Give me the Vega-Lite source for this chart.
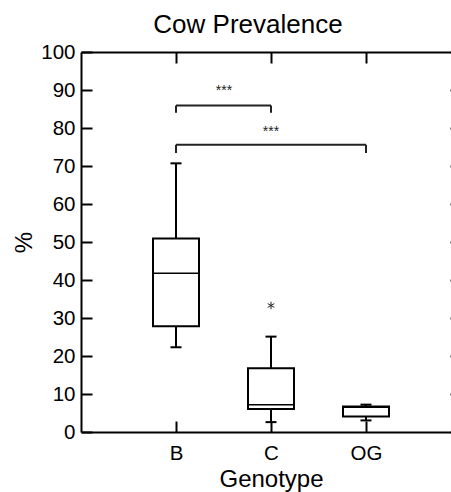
{
  "$schema": "https://vega.github.io/schema/vega-lite/v6.json",
  "width": 380,
  "height": 380,
  "padding": {"left": 12, "top": 12, "right": 0, "bottom": 0},
  "background": "white",
  "title": {"text": "Cow Prevalence", "fontSize": 26, "font": "Liberation Sans", "fontWeight": "normal", "color": "black", "dx": -23, "offset": 4},
  "config": {
    "view": {"stroke": null},
    "font": "Liberation Sans",
    "axis": {
      "domainColor": "black", "domainWidth": 2, "tickColor": "black", "tickWidth": 2, "tickSize": -11,
      "grid": false, "labelFont": "Liberation Sans", "labelColor": "black", "labelFontSize": 20.5,
      "titleFont": "Liberation Sans", "titleColor": "black", "titleFontWeight": "normal", "titleFontSize": 24
    }
  },
  "datasets": {
    "boxes": [
      {"genotype": "B", "lower": 22.3, "q1": 27.8, "median": 41.8, "q3": 50.9, "upper": 70.7},
      {"genotype": "C", "lower": 2.6, "q1": 6.05, "median": 7.2, "q3": 16.8, "upper": 25.1},
      {"genotype": "OG", "lower": 3.05, "q1": 4.1, "median": 6.5, "q3": 6.7, "upper": 7.2}
    ],
    "outliers": [
      {"genotype": "C", "value": 33.3}
    ],
    "brackets": [
      {"pair": "B-C", "from": "B", "to": "C", "level": 85.9, "leg": 84.0},
      {"pair": "B-OG", "from": "B", "to": "OG", "level": 75.6, "leg": 73.4}
    ],
    "stars": [
      {"pair": "B-C", "at": "B", "y": 88.8, "label": "***"},
      {"pair": "B-OG", "at": "C", "y": 77.8, "label": "***"}
    ]
  },
  "layer": [
    {
      "data": {"name": "boxes"},
      "mark": {"type": "rule", "strokeWidth": 2, "color": "black"},
      "encoding": {
        "x": {"field": "genotype", "type": "nominal", "scale": {"type": "point", "domain": ["B", "C", "OG"], "padding": 1},
              "axis": {"orient": "bottom", "title": "Genotype", "labelAngle": 0, "labelPadding": 22, "titlePadding": 4}},
        "y": {"field": "q3", "type": "quantitative", "scale": {"domain": [0, 100], "nice": false},
              "axis": {"orient": "left", "title": "%", "values": [0, 10, 20, 30, 40, 50, 60, 70, 80, 90, 100], "labelPadding": 17, "titlePadding": 4}},
        "y2": {"field": "upper"}
      }
    },
    {
      "data": {"name": "boxes"},
      "mark": {"type": "rule", "strokeWidth": 2, "color": "black"},
      "encoding": {
        "x": {"field": "genotype", "type": "nominal", "axis": {"orient": "top", "title": null, "labels": false}},
        "y": {"field": "lower", "type": "quantitative",
              "axis": {"orient": "right", "title": null, "labels": false, "values": [0, 10, 20, 30, 40, 50, 60, 70, 80, 90, 100]}},
        "y2": {"field": "q1"}
      }
    },
    {
      "data": {"name": "boxes"},
      "mark": {"type": "bar", "size": 46, "fill": "white", "stroke": "black", "strokeWidth": 2},
      "encoding": {
        "x": {"field": "genotype", "type": "nominal", "axis": null},
        "y": {"field": "q1", "type": "quantitative", "axis": null},
        "y2": {"field": "q3"}
      }
    },
    {
      "data": {"name": "boxes"},
      "mark": {"type": "tick", "size": 47, "thickness": 1.5, "color": "black", "opacity": 1},
      "encoding": {
        "x": {"field": "genotype", "type": "nominal", "axis": null},
        "y": {"field": "median", "type": "quantitative", "axis": null}
      }
    },
    {
      "data": {"name": "boxes"},
      "mark": {"type": "tick", "size": 11, "thickness": 2, "color": "black", "opacity": 1},
      "encoding": {
        "x": {"field": "genotype", "type": "nominal", "axis": null},
        "y": {"field": "upper", "type": "quantitative", "axis": null}
      }
    },
    {
      "data": {"name": "boxes"},
      "mark": {"type": "tick", "size": 11, "thickness": 2, "color": "black", "opacity": 1},
      "encoding": {
        "x": {"field": "genotype", "type": "nominal", "axis": null},
        "y": {"field": "lower", "type": "quantitative", "axis": null}
      }
    },
    {
      "data": {"name": "outliers"},
      "mark": {"type": "point", "shape": "M0,-1L0,1M-0.87,-0.5L0.87,0.5M-0.87,0.5L0.87,-0.5", "size": 56, "stroke": "#222", "strokeWidth": 1, "filled": false, "opacity": 1},
      "encoding": {
        "x": {"field": "genotype", "type": "nominal", "axis": null},
        "y": {"field": "value", "type": "quantitative", "axis": null}
      }
    },
    {
      "data": {"name": "brackets"},
      "mark": {"type": "rule", "strokeWidth": 2, "color": "#222"},
      "encoding": {
        "x": {"field": "from", "type": "nominal", "axis": null},
        "x2": {"field": "to"},
        "y": {"field": "level", "type": "quantitative", "axis": null}
      }
    },
    {
      "data": {"name": "brackets"},
      "mark": {"type": "rule", "strokeWidth": 2, "color": "#222"},
      "encoding": {
        "x": {"field": "from", "type": "nominal", "axis": null},
        "y": {"field": "leg", "type": "quantitative", "axis": null},
        "y2": {"field": "level"}
      }
    },
    {
      "data": {"name": "brackets"},
      "mark": {"type": "rule", "strokeWidth": 2, "color": "#222"},
      "encoding": {
        "x": {"field": "to", "type": "nominal", "axis": null},
        "y": {"field": "leg", "type": "quantitative", "axis": null},
        "y2": {"field": "level"}
      }
    },
    {
      "data": {"name": "stars"},
      "transform": [{"filter": "datum.pair == 'B-C'"}],
      "mark": {"type": "text", "fontSize": 14, "font": "Liberation Sans", "color": "#222", "baseline": "alphabetic", "align": "center", "dx": 48},
      "encoding": {
        "x": {"field": "at", "type": "nominal", "axis": null},
        "y": {"field": "y", "type": "quantitative", "axis": null},
        "text": {"field": "label"}
      }
    },
    {
      "data": {"name": "stars"},
      "transform": [{"filter": "datum.pair == 'B-OG'"}],
      "mark": {"type": "text", "fontSize": 14, "font": "Liberation Sans", "color": "#222", "baseline": "alphabetic", "align": "center"},
      "encoding": {
        "x": {"field": "at", "type": "nominal", "axis": null},
        "y": {"field": "y", "type": "quantitative", "axis": null},
        "text": {"field": "label"}
      }
    }
  ],
  "resolve": {"axis": {"x": "independent", "y": "independent"}}
}
